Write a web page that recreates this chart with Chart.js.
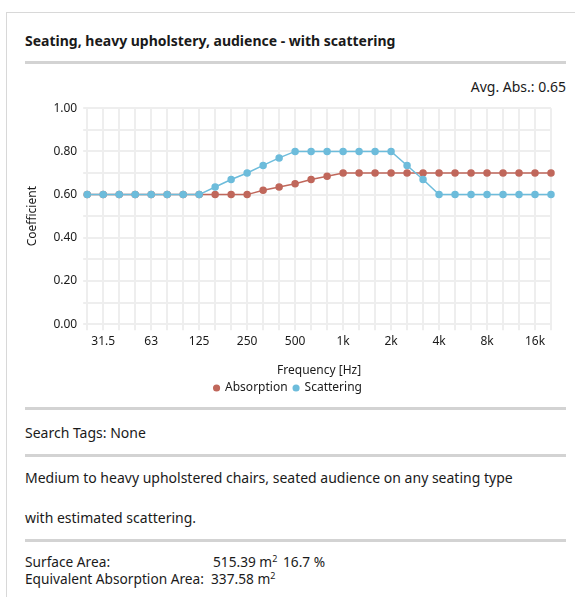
<!DOCTYPE html>
<html>
<head>
<meta charset="utf-8">
<script src="https://cdn.jsdelivr.net/npm/chart.js@4"></script>
<style>
    html, body { margin: 0; padding: 0; background: #fff; }
    body { width: 575px; height: 597px; position: relative; overflow: hidden;
           font-family: "Noto Sans", "Open Sans", sans-serif; color: #1a1a1a; }
    .card { position: absolute; left: 6px; top: 12px; right: -2px; bottom: -2px;
            border-left: 1px solid #d8d8d8; border-top: 1px solid #d8d8d8; }
    .abs { position: absolute; white-space: nowrap; }
    .rule { position: absolute; left: 25px; width: 541px; height: 3px; background: #d3d3d3; }
    .title { left: 25px; top: 31px; font-size: 14px; font-weight: bold; }
    .avg { right: 9px; top: 77px; font-size: 14px; }
    .txt { left: 25px; font-size: 14px; }
    .small { font-size: 13.7px; line-height: 17px; }
    sup { font-size: 9px; line-height: 0; vertical-align: 5px; }
    #chartBox { position: absolute; left: 25px; top: 95px; width: 541px; height: 309px; }
</style>
</head>
<body>
<div class="card"></div>
<div class="abs title">Seating, heavy upholstery, audience - with scattering</div>
<div class="rule" style="top:61px"></div>
<div class="abs avg">Avg. Abs.: 0.65</div>
<div id="chartBox"><canvas id="chart"></canvas></div>
<div class="rule" style="top:407px"></div>
<div class="abs txt" style="top:423px">Search Tags: None</div>
<div class="rule" style="top:454px"></div>
<div class="abs txt" style="top:468px">Medium to heavy upholstered chairs, seated audience on any seating type</div>
<div class="abs txt" style="top:508px">with estimated scattering.</div>
<div class="rule" style="top:539px"></div>
<div class="abs txt small" style="top:553px">Surface Area:</div>
<div class="abs txt small" style="top:553px; left:213px">515.39 m<sup>2</sup></div>
<div class="abs txt small" style="top:553px; left:283px">16.7 %</div>
<div class="abs txt small" style="top:570px">Equivalent Absorption Area:&nbsp; 337.58 m<sup>2</sup></div>

<script>
// one-third octave bands, 25 Hz .. 20 kHz
const frequencies = ['25', '31.5', '40', '50', '63', '80', '100', '125', '160', '200',
    '250', '315', '400', '500', '630', '800', '1k', '1.25k', '1.6k', '2k',
    '2.5k', '3.15k', '4k', '5k', '6.3k', '8k', '10k', '12.5k', '16k', '20k'];

// only octave bands get a label
const octaveLabels = ['31.5', '63', '125', '250', '500', '1k', '2k', '4k', '8k', '16k'];

const absorption = [0.60, 0.60, 0.60, 0.60, 0.60, 0.60, 0.60, 0.60, 0.60, 0.60,
    0.60, 0.62, 0.635, 0.65, 0.67, 0.685, 0.70, 0.70, 0.70, 0.70,
    0.70, 0.70, 0.70, 0.70, 0.70, 0.70, 0.70, 0.70, 0.70, 0.70];

const scattering = [0.60, 0.60, 0.60, 0.60, 0.60, 0.60, 0.60, 0.60, 0.635, 0.67,
    0.70, 0.735, 0.77, 0.80, 0.80, 0.80, 0.80, 0.80, 0.80, 0.80,
    0.735, 0.67, 0.60, 0.60, 0.60, 0.60, 0.60, 0.60, 0.60, 0.60];

const COLORS = {
    absorption: '#c0675b',
    scattering: '#6dbcdb',
    grid: '#eeeeee',
    text: '#1a1a1a'
};

const FONT = '"Noto Sans", "Open Sans", sans-serif';

function lineSet(label, data, color, order) {
    return {
        label,
        data,
        order,
        borderColor: color,
        backgroundColor: color,
        pointBackgroundColor: color,
        pointBorderColor: color,
        borderWidth: 1.5,
        pointRadius: 3,
        pointHoverRadius: 3,
        fill: false,
        tension: 0
    };
}

new Chart(document.getElementById('chart'), {
    type: 'line',
    data: {
        labels: frequencies,
        datasets: [
            // scattering gets the lower order so it is painted on top
            lineSet('Absorption', absorption, COLORS.absorption, 1),
            lineSet('Scattering', scattering, COLORS.scattering, 0)
        ]
    },
    options: {
        responsive: true,
        maintainAspectRatio: false,
        animation: false,
        layout: { padding: { left: 0, right: 15, top: 7, bottom: 0 } },
        plugins: {
            tooltip: { enabled: false },
            legend: {
                position: 'bottom',
                labels: {
                    usePointStyle: true,
                    pointStyle: 'circle',
                    boxWidth: 5,
                    boxHeight: 4,
                    padding: 6,
                    color: COLORS.text,
                    font: { family: FONT, size: 12 },
                    sort: (a, b) => a.datasetIndex - b.datasetIndex
                }
            }
        },
        scales: {
            x: {
                offset: false,
                grid: { color: COLORS.grid, lineWidth: 2, tickLength: 6, drawTicks: true },
                border: { display: false },
                ticks: {
                    autoSkip: false,
                    maxRotation: 0,
                    color: COLORS.text,
                    font: { family: FONT, size: 12 },
                    padding: 4,
                    callback: function (value) {
                        const label = this.getLabelForValue(value);
                        return octaveLabels.includes(label) ? label : '';
                    }
                },
                title: {
                    display: true,
                    text: 'Frequency [Hz]',
                    color: COLORS.text,
                    font: { family: FONT, size: 12 },
                    padding: { top: 11, bottom: -2 }
                }
            },
            y: {
                min: 0,
                max: 1,
                grid: { color: COLORS.grid, lineWidth: 2, tickLength: 4 },
                border: { display: false },
                ticks: {
                    stepSize: 0.1,
                    color: COLORS.text,
                    font: { family: FONT, size: 12 },
                    padding: 6,
                    callback: value => {
                        const v = Math.round(value * 10);
                        return v % 2 === 0 ? (v / 10).toFixed(2) : '';
                    }
                },
                title: {
                    display: true,
                    text: 'Coefficient',
                    color: COLORS.text,
                    font: { family: FONT, size: 12 },
                    padding: { top: 0, bottom: 8 }
                }
            }
        }
    }
});
</script>
</body>
</html>
